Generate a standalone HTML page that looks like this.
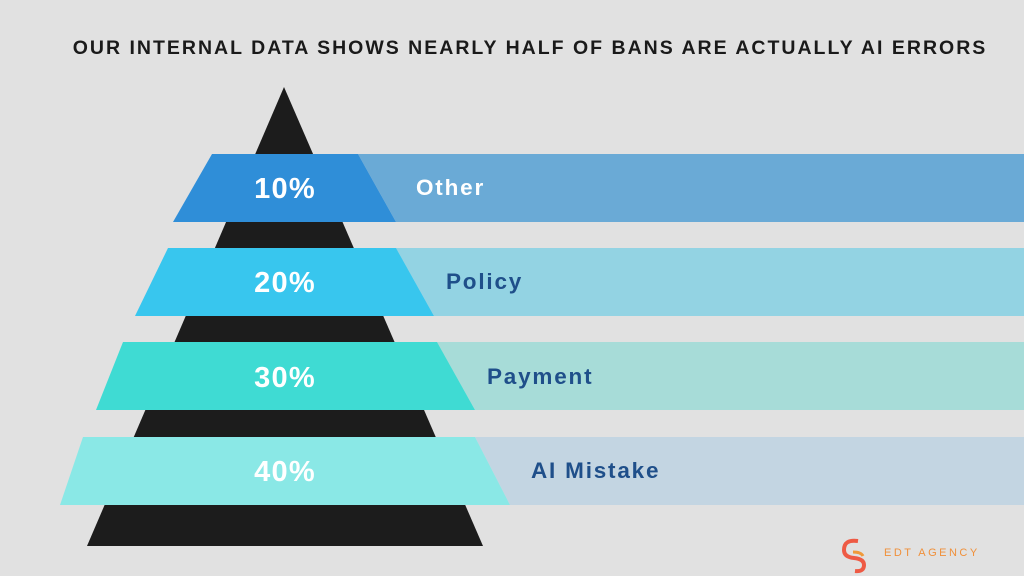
<!DOCTYPE html>
<html><head><meta charset="utf-8"><style>
html,body{margin:0;padding:0;}
body{width:1024px;height:576px;background:#e1e1e1;overflow:hidden;position:relative;font-family:"Liberation Sans",sans-serif;}
</style></head><body>
<svg width="1024" height="576" viewBox="0 0 1024 576" xmlns="http://www.w3.org/2000/svg" style="position:absolute;left:0;top:0">
<rect width="1024" height="576" fill="#e1e1e1"/>
<text x="530" y="54" text-anchor="middle" font-family="Liberation Sans, sans-serif" font-weight="bold" font-size="19.5" letter-spacing="2" fill="#1a1a1a">OUR INTERNAL DATA SHOWS NEARLY HALF OF BANS ARE ACTUALLY AI ERRORS</text>
<polygon points="284,87 483,546 87,546" fill="#1c1c1c"/>
<polygon points="358,154 1024,154 1024,222 396,222" fill="#6aaad6"/>
<polygon points="212,154 358,154 396,222 173,222" fill="#2f8ed8"/>
<polygon points="396,248 1024,248 1024,316 434,316" fill="#93d3e3"/>
<polygon points="168,248 396,248 434,316 135,316" fill="#38c6ee"/>
<polygon points="437,342 1024,342 1024,410 475,410" fill="#a7dcd8"/>
<polygon points="123,342 437,342 475,410 96,410" fill="#3fdbd3"/>
<polygon points="475,437 1024,437 1024,505 510,505" fill="#c3d5e2"/>
<polygon points="83,437 475,437 510,505 60,505" fill="#8ae8e6"/>
<g font-family="Liberation Sans, sans-serif" font-weight="bold" font-size="29" fill="#fff" text-anchor="middle" letter-spacing="1.2">
<text x="285" y="198">10%</text>
<text x="285" y="292">20%</text>
<text x="285" y="387">30%</text>
<text x="285" y="481">40%</text>
</g>
<g font-family="Liberation Sans, sans-serif" font-weight="bold" font-size="22.5" letter-spacing="1.8">
<text x="416" y="195" fill="#ffffff">Other</text>
<text x="446" y="289" fill="#1f4f8a">Policy</text>
<text x="487" y="384" fill="#1f4f8a">Payment</text>
<text x="531" y="478" fill="#1f4f8a">AI Mistake</text>
</g>
<g>
<path d="M858,541 q-14,-2 -14,9 q0,7 10,8 q10,1 10,7 q0,7 -9,6" fill="none" stroke="#ee5a44" stroke-width="4"/>
<path d="M853,552 q8,0 10,4" fill="none" stroke="#f09a3a" stroke-width="3"/>
<text x="884" y="556" font-family="Liberation Sans, sans-serif" font-size="11" letter-spacing="2.5" fill="#f0903a">EDT AGENCY</text>
</g>
</svg>
</body></html>
